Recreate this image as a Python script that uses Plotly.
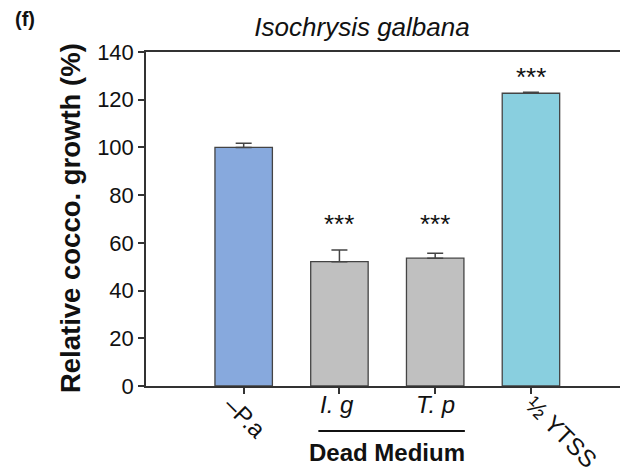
import plotly.graph_objects as go

categories = ["-Pa", "Ig", "Tp", "YTSS"]
tick_labels = ["–P.a", "<i>I. g</i>", "<i>T. p</i>", "½ YTSS"]
tick_angles = [45, 0, 0, 45]
values = [100.0, 52.1, 53.6, 122.7]
errors = [1.7, 4.9, 2.0, 0.4]
colors = ["#87A9DD", "#C0C0C0", "#C0C0C0", "#89CFDF"]
signif = ["", "***", "***", "***"]
signif_y = [0, 69.5, 69.5, 131]

FONT = "Liberation Sans, Arial, sans-serif"
xs = list(range(len(categories)))

fig = go.Figure()
fig.add_trace(go.Bar(
    x=xs, y=values, width=0.6,
    marker=dict(color=colors, line=dict(color="#444444", width=1.3)),
    error_y=dict(type="data", array=errors, symmetric=False, arrayminus=[0]*4,
                 color="#444444", thickness=1.5, width=8),
    showlegend=False,
))

ann = []
for x, s, yy in zip(xs, signif, signif_y):
    if s:
        ann.append(dict(x=x, y=yy, xref="x", yref="y", text=s, showarrow=False,
                        font=dict(family=FONT, size=26, color="#111"),
                        xanchor="center", yanchor="middle", yshift=-4))

label_pos = [(2, -0.093, 24), (-2, -0.055, 24), (0, -0.055, 24), (31, -0.138, 24)]
for x, t, a, (dx, py, fs) in zip(xs, tick_labels, tick_angles, label_pos):
    ann.append(dict(x=x, y=py, xref="x", yref="paper", text=t, showarrow=False,
                    textangle=a, xshift=dx,
                    font=dict(family=FONT, size=fs, color="#111"),
                    xanchor="center", yanchor="middle"))

ann.append(dict(x=1.5, y=-0.2, xref="x", yref="paper", text="<b>Dead Medium</b>",
                showarrow=False, font=dict(family=FONT, size=24, color="#111"),
                xanchor="center", yanchor="middle"))
ann.append(dict(x=-0.28, y=1.1, xref="paper", yref="paper", text="<b>(f)</b>",
                showarrow=False, font=dict(family=FONT, size=20, color="#111"),
                xanchor="left", yanchor="middle"))
ann.append(dict(x=-0.158, y=0.503, xref="paper", yref="paper",
                text="<b>Relative cocco. growth (%)</b>", textangle=-90,
                showarrow=False, font=dict(family=FONT, size=27.5, color="#111"),
                xanchor="center", yanchor="middle"))

shapes = [dict(type="line", xref="x", yref="paper", x0=0.78, x1=2.31, y0=-0.135, y1=-0.135,
               line=dict(color="#111", width=2))]

fig.update_layout(
    width=621, height=474,
    margin=dict(l=146, r=1, t=52, b=88, autoexpand=False),
    plot_bgcolor="white", paper_bgcolor="white",
    font=dict(family=FONT, color="#111"),
    title=dict(text="<i>Isochrysis galbana</i>", x=362/621, xanchor="center",
               y=1-27/474, yanchor="middle", font=dict(family=FONT, size=26, color="#111")),
    annotations=ann, shapes=shapes,
)
fig.update_xaxes(range=[-1.02, 3.93], tickvals=xs, ticktext=[""]*4, automargin=False,
                 showline=True, linecolor="#333", linewidth=1.5, mirror=True,
                 ticks="outside", ticklen=6, tickcolor="#333", tickwidth=1.5,
                 showgrid=False, zeroline=False)
fig.update_yaxes(range=[0, 140], tickvals=[0, 20, 40, 60, 80, 100, 120, 140], automargin=False,
                 showline=True, linecolor="#333", linewidth=1.5,
                 ticks="outside", ticklen=6, tickcolor="#333", tickwidth=1.5,
                 tickfont=dict(family=FONT, size=22, color="#111"),
                 showgrid=False, zeroline=False)

fig.write_html("out.html", config={"displayModeBar": False},
               post_script="document.body.style.margin='0';")
